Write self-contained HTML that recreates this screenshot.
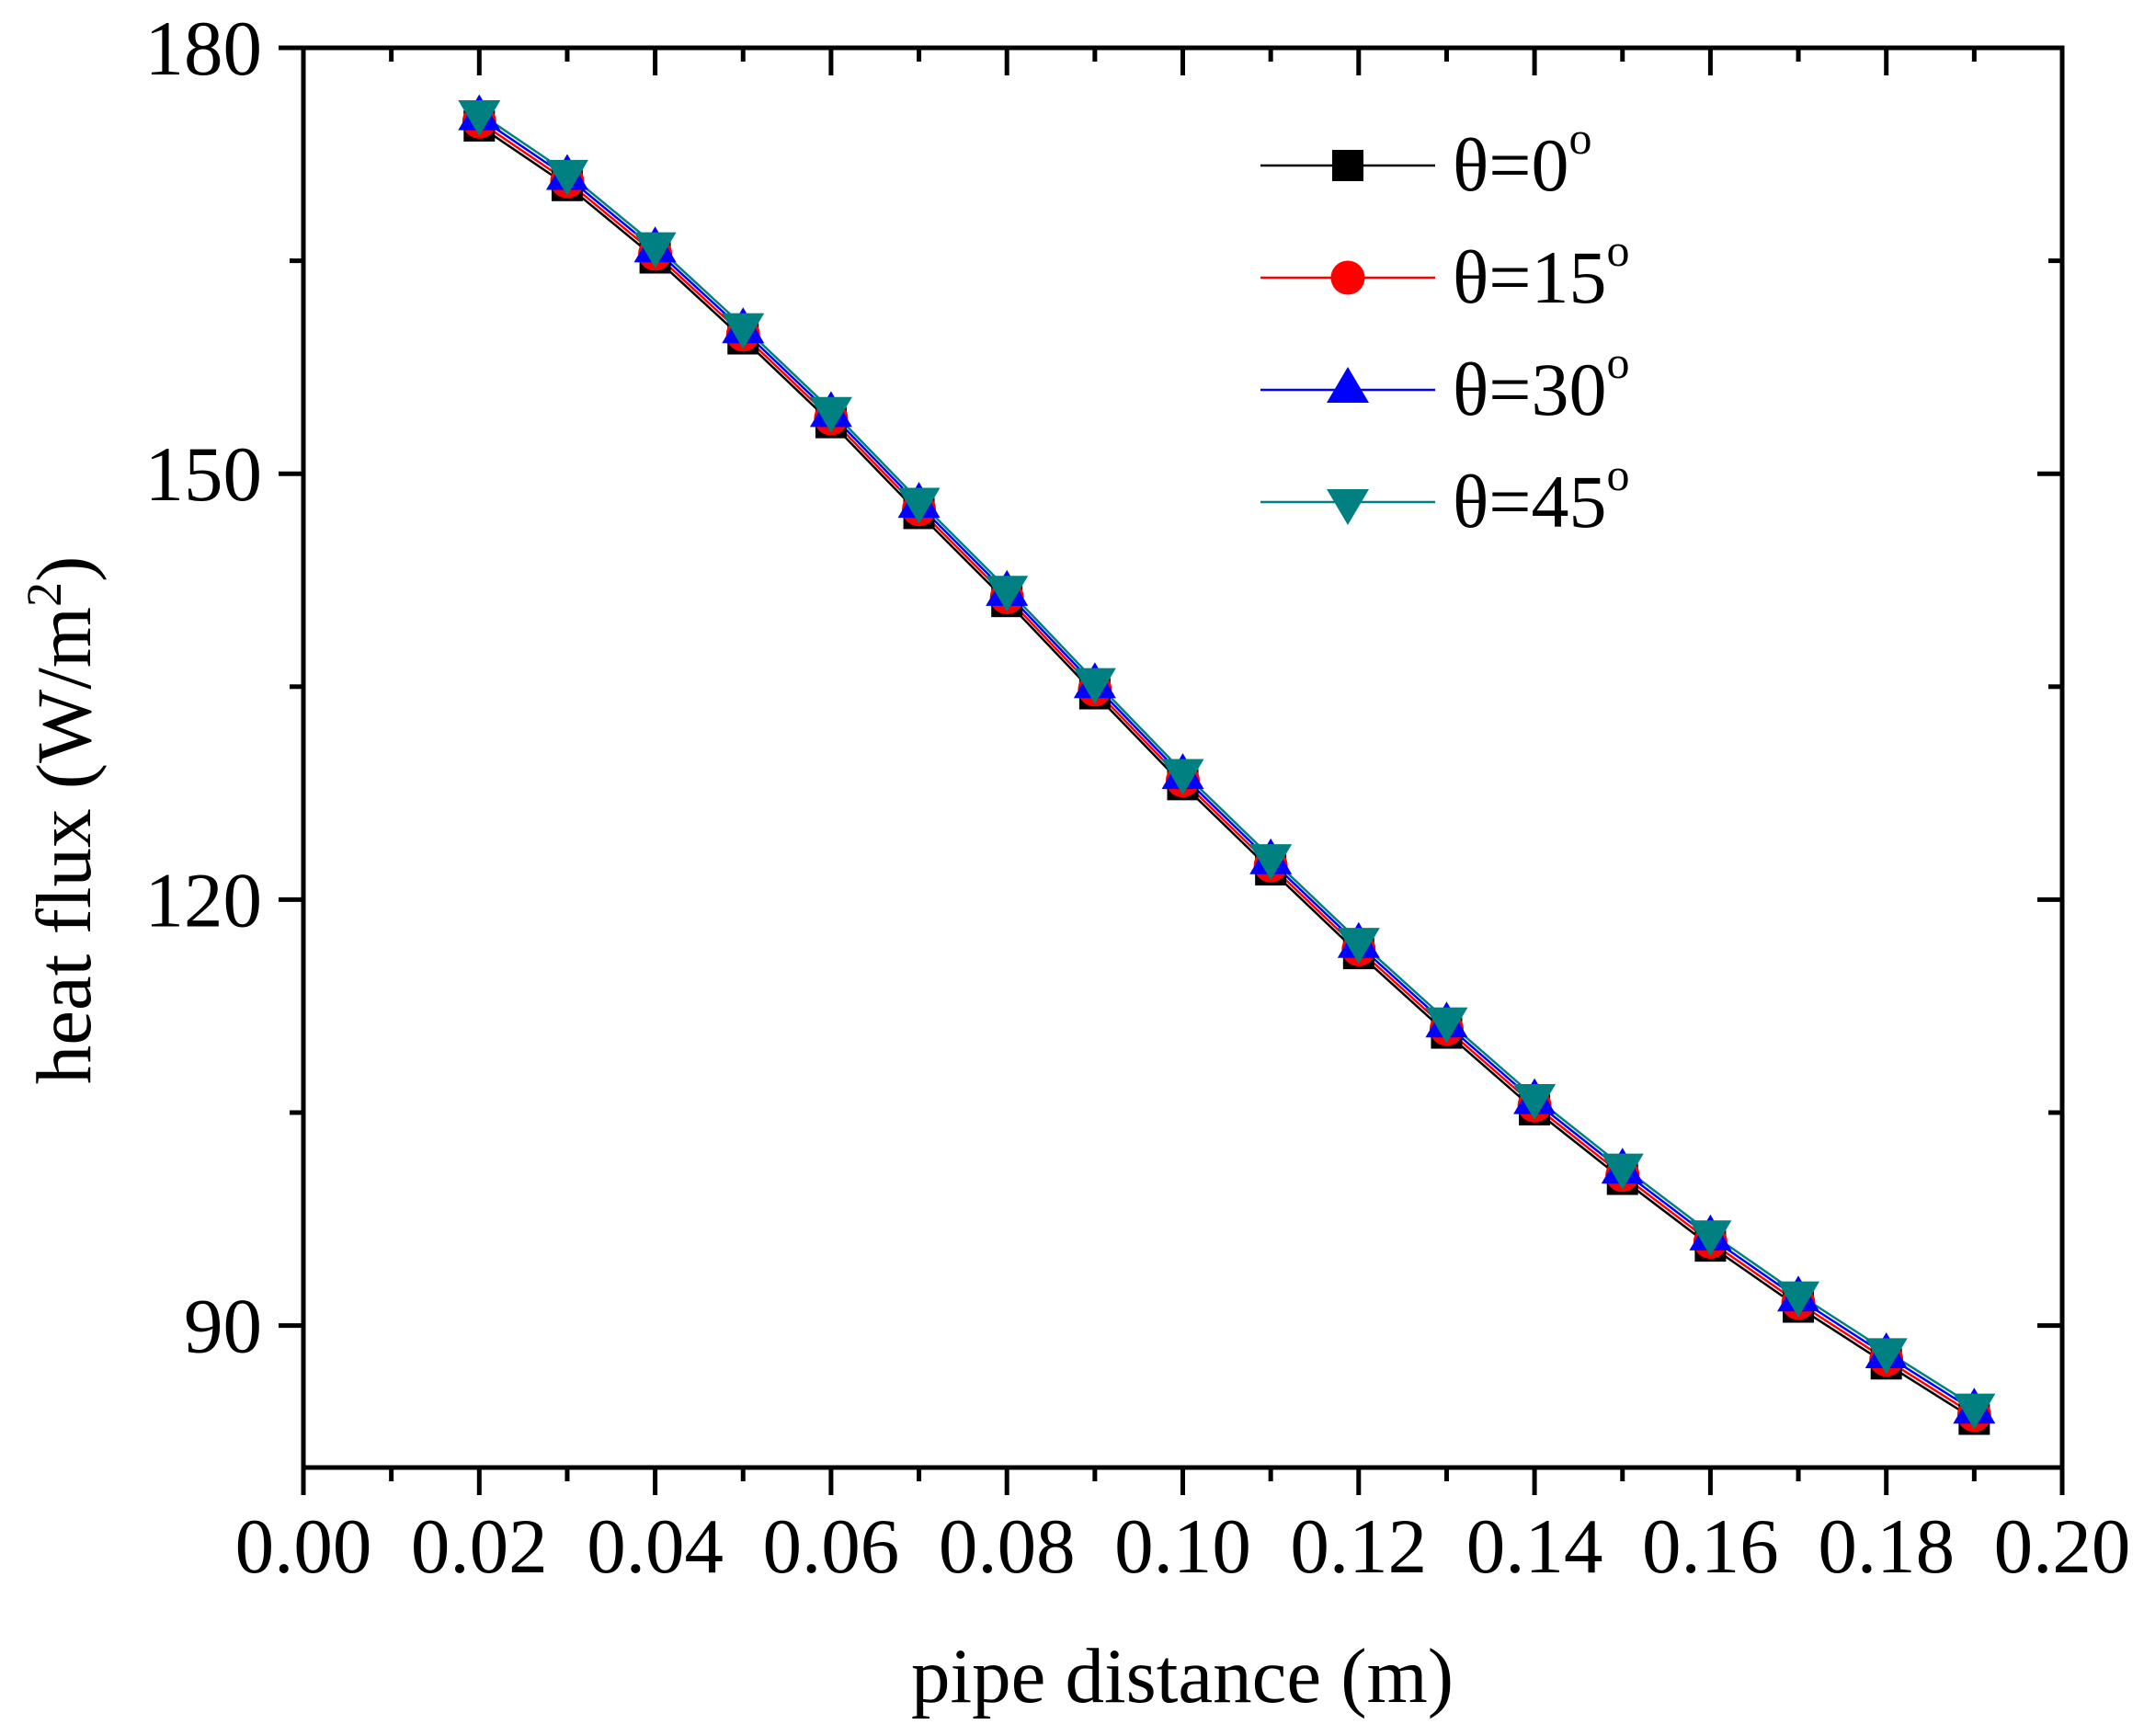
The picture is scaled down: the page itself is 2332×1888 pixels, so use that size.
<!DOCTYPE html>
<html><head><meta charset="utf-8"><style>html,body{margin:0;padding:0;background:#fff}svg{display:block}</style></head>
<body>
<svg id="s" width="2332" height="1888" viewBox="0 0 2332 1888" xmlns="http://www.w3.org/2000/svg" font-family="Liberation Serif, serif">
<rect width="2332" height="1888" fill="#fff"/>
<g id="ticks" stroke="#000" stroke-width="5"></g>
<g id="data"></g>
<rect x="330" y="52" width="1913" height="1544" fill="none" stroke="#000" stroke-width="5"/>
<g id="labels" font-size="85" fill="#000"></g>
<text x="1286" y="1851" font-size="85" text-anchor="middle">pipe distance (m)</text>
<text transform="translate(98,892) rotate(-90)" font-size="85" text-anchor="middle">heat flux (W/m<tspan dy="-32" font-size="54">2</tspan><tspan dy="32">)</tspan></text>
<g id="legend"></g>
</svg>
<script>
const NS="http://www.w3.org/2000/svg";
function el(p,t,a,txt){const e=document.createElementNS(NS,t);for(const k in a)e.setAttribute(k,a[k]);if(txt!==undefined)e.textContent=txt;p.appendChild(e);return e;}
const X=v=>330+v*9565, Y=v=>52+(180-v)*15.44;
const tk=document.getElementById('ticks'), lb=document.getElementById('labels');
for(let i=0;i<=20;i++){const x=X(i*0.01),maj=i%2==0;
 el(tk,'line',{x1:x,y1:1596,x2:x,y2:1596+(maj?30:15)});
 el(tk,'line',{x1:x,y1:52,x2:x,y2:52+(maj?30:15)});
 if(maj) el(lb,'text',{x:x,y:1710,'text-anchor':'middle'},(i*0.01).toFixed(2));}
for(let v=90;v<=180;v+=15){const y=Y(v),maj=v%30==0;
 el(tk,'line',{x1:330,y1:y,x2:330-(maj?27:15),y2:y});
 el(tk,'line',{x1:2243,y1:y,x2:2243-(maj?27:15),y2:y});
 if(maj) el(lb,'text',{x:285,y:y+29,'text-anchor':'end'},v);}
const base=[174.5,170.3,165.2,159.5,153.6,147.2,141.0,134.5,128.1,122.1,116.2,110.6,105.2,100.3,95.6,91.3,87.3,83.4];
const S=[{c:'#000',o:0,m:'sq',l:'0'},{c:'#ff0000',o:0.3,m:'ci',l:'15'},{c:'#0000ff',o:0.6,m:'up',l:'30'},{c:'#008080',o:0.9,m:'dn',l:'45'}];
const dg=document.getElementById('data');
function mk(g,m,x,y,c){
 if(m=='sq')el(g,'rect',{x:x-17,y:y-17,width:34,height:34,fill:c});
 else if(m=='ci')el(g,'circle',{cx:x,cy:y,r:18.5,fill:c});
 else if(m=='up')el(g,'polygon',{points:`${x-23},${y+14} ${x+23},${y+14} ${x},${y-25}`,fill:c});
 else el(g,'polygon',{points:`${x-23},${y-14} ${x+23},${y-14} ${x},${y+25}`,fill:c});}
S.forEach(s=>{const pts=base.map((v,i)=>[X(0.02+i*0.01),Y(v+s.o)]);
 el(dg,'polyline',{points:pts.map(p=>p.join(',')).join(' '),fill:'none',stroke:s.c,'stroke-width':2.5});});
S.forEach(s=>{base.forEach((v,i)=>mk(dg,s.m,X(0.02+i*0.01),Y(v+s.o),s.c));});
const lg=document.getElementById('legend');
S.forEach((s,i)=>{const y=180+i*122;
 el(lg,'line',{x1:1371,y1:y,x2:1561,y2:y,stroke:s.c,'stroke-width':2.5});
 mk(lg,s.m,1466,y,s.c);
 const t=el(lg,'text',{x:1580,y:y+27,'font-size':82});
 t.textContent='θ='+s.l;
 el(t,'tspan',{dy:-40,'font-size':50},'o');});
</script>
</body></html>
